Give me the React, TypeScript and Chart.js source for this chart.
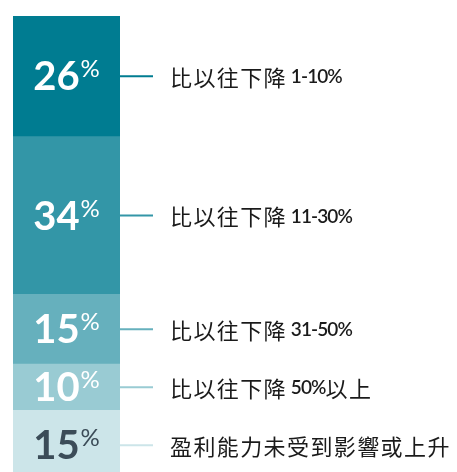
import React, { useEffect, useRef } from "react";
import { Chart, registerables } from "chart.js";

Chart.register(...registerables);

// Segments listed from top of the bar to bottom
const categories = [
  "比以往下降 1-10%",
  "比以往下降 11-30%",
  "比以往下降 31-50%",
  "比以往下降 50%以上",
  "盈利能力未受到影響或上升",
];
const values = [26, 34, 15, 10, 15];
const segmentColors = ["#007C91", "#3396A7", "#66B0BD", "#99CBD3", "#CCE5E9"];
const valueTextColors = ["#FFFFFF", "#FFFFFF", "#FFFFFF", "#FFFFFF", "#3B4C58"];

const CANVAS_W = 457;
const CANVAS_H = 490;

const labelPlugin = {
  id: "segmentLabels",
  afterDatasetsDraw(chart: any) {
    const ctx = chart.ctx as CanvasRenderingContext2D;
    const n = chart.data.datasets.length;
    for (let d = 0; d < n; d++) {
      const ds = chart.data.datasets[d];
      const meta = chart.getDatasetMeta(d);
      const el = meta.data[0];
      if (!el) continue;
      const props = el.getProps(["x", "y", "base", "width"], true);
      const cy = (props.y + props.base) / 2;
      const right = props.x + props.width / 2;
      const cx = props.x;
      const idx = ds.srcIndex;

      // value label
      ctx.save();
      const numText = String(ds.data[0]);
      ctx.font = "bold 40px Lato, 'Open Sans', sans-serif";
      const numW = ctx.measureText(numText).width;
      ctx.font = "24px Lato, 'Open Sans', sans-serif";
      const pctW = ctx.measureText("%").width;
      const gap = 1;
      const total = numW + gap + pctW;
      const startX = cx - total / 2;
      ctx.fillStyle = valueTextColors[idx];
      ctx.textBaseline = "alphabetic";
      ctx.textAlign = "left";
      ctx.font = "bold 40px Lato, 'Open Sans', sans-serif";
      ctx.fillText(numText, startX, cy + 14);
      ctx.font = "24px Lato, 'Open Sans', sans-serif";
      ctx.fillText("%", startX + numW + gap, cy + 1);
      ctx.restore();

      // leader line
      ctx.save();
      ctx.strokeStyle = segmentColors[idx];
      ctx.lineWidth = 2;
      ctx.beginPath();
      ctx.moveTo(right, cy);
      ctx.lineTo(right + 33, cy);
      ctx.stroke();
      ctx.restore();

      // category label, split into CJK / Latin runs
      ctx.save();
      ctx.fillStyle = "#1A1A1A";
      ctx.textBaseline = "middle";
      ctx.textAlign = "left";
      let x = right + 50;
      const runs = (ds.label as string).match(/[\u3000-\u9fff]+|[^\u3000-\u9fff]+/g) || [];
      for (const run of runs) {
        const isCJK = /[\u3000-\u9fff]/.test(run);
        if (isCJK) {
          ctx.font = "22px 'Noto Sans CJK TC', sans-serif";
          (ctx as any).letterSpacing = "1.4px";
          ctx.fillText(run, x, cy + 1);
          x += ctx.measureText(run).width;
        } else {
          ctx.font = "600 19px Lato, sans-serif";
          (ctx as any).letterSpacing = "-0.9px";
          ctx.fillText(run, x, cy + 1);
          x += ctx.measureText(run).width;
        }
      }
      ctx.restore();
    }
  },
};

export default function App() {
  const ref = useRef<HTMLCanvasElement | null>(null);

  useEffect(() => {
    if (!ref.current) return;
    const order = values.map((_, i) => i).reverse(); // bottom segment first
    const chart = new Chart(ref.current, {
      type: "bar",
      data: {
        labels: [""],
        datasets: order.map((i) => ({
          label: categories[i],
          data: [values[i]],
          backgroundColor: segmentColors[i],
          borderWidth: 0,
          barPercentage: 1,
          categoryPercentage: 1,
          srcIndex: i,
        })) as any,
      },
      options: {
        animation: false,
        responsive: false,
        layout: { padding: { left: 13, right: CANVAS_W - 120, top: 16, bottom: CANVAS_H - 480 } },
        plugins: { legend: { display: false }, tooltip: { enabled: false } },
        scales: {
          x: { stacked: true, display: false },
          y: { stacked: true, display: false, min: 0, max: 100 },
        },
      },
      plugins: [labelPlugin],
    });
    return () => chart.destroy();
  }, []);

  return (
    <div
      style={{
        position: "fixed",
        left: 0,
        top: 0,
        width: CANVAS_W,
        height: 472,
        overflow: "hidden",
        background: "#fff",
      }}
    >
      <canvas ref={ref} width={CANVAS_W} height={CANVAS_H} style={{ display: "block" }} />
    </div>
  );
}
